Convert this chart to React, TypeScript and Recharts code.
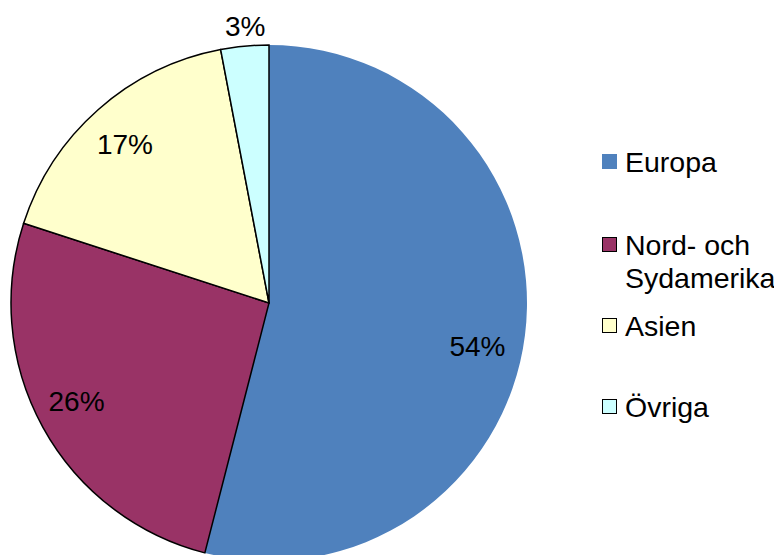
import React from "react";
import { PieChart, Pie, Cell, Legend } from "recharts";

const categories = ["Europa", "Nord- och Sydamerika", "Asien", "Övriga"];
const legendLines = [["Europa"], ["Nord- och", "Sydamerika"], ["Asien"], ["Övriga"]];
const values = [54, 26, 17, 3];

const colors = ["#4F81BD", "#993366", "#FFFFCC", "#CCFFFF"];
const strokes = ["none", "#000000", "#000000", "#000000"];
const labelAngleShift = [-4.6, -1.8, 0.9, -0.5];
const labelRadius = [213, 216, 214, 278];
const legendTops = [146, 229, 310, 391];

const data = categories.map((name, i) => ({ name, value: values[i] }));

const FONT = "'Liberation Sans', Arial, sans-serif";
const RAD = Math.PI / 180;

const renderLabel = (props: any) => {
  const { cx, cy, midAngle, index, value } = props;
  const a = (midAngle + labelAngleShift[index]) * RAD;
  const r = labelRadius[index];
  const x = cx + r * Math.cos(a);
  const y = cy - r * Math.sin(a);
  return (
    <text
      x={x}
      y={y}
      textAnchor="middle"
      dominantBaseline="central"
      fill="#000"
      fontFamily={FONT}
      fontSize={28}
    >
      {`${value}%`}
    </text>
  );
};

const renderLegend = () => (
  <div style={{ position: "relative", width: 180, height: 300 }}>
    {legendLines.map((lines, i) => (
      <div
        key={i}
        style={{
          position: "absolute",
          left: 0,
          top: legendTops[i] - 146,
          display: "flex",
          alignItems: "flex-start",
        }}
      >
        <div
          style={{
            width: i === 0 ? 15 : 13,
            height: i === 0 ? 15 : 13,
            marginTop: 8,
            background: colors[i],
            border: i === 0 ? "none" : "1.5px solid #000",
            marginRight: 8,
          }}
        />
        <div style={{ fontFamily: FONT, fontSize: 28.5, lineHeight: "33px", color: "#000" }}>
          {lines.map((l, j) => (
            <div key={j} style={{ whiteSpace: "nowrap" }}>{l}</div>
          ))}
        </div>
      </div>
    ))}
  </div>
);

export default function App() {
  return (
    <PieChart
      width={774}
      height={547}
      margin={{ top: 0, right: 0, bottom: 0, left: 0 }}
      style={{ overflow: "hidden" }}
    >
      <Pie
        data={data}
        dataKey="value"
        nameKey="name"
        cx={261}
        cy={295}
        outerRadius={258}
        startAngle={90}
        endAngle={-270}
        isAnimationActive={false}
        label={renderLabel}
        labelLine={false}
      >
        {data.map((d, i) => (
          <Cell key={d.name} fill={colors[i]} stroke={strokes[i]} strokeWidth={1.5} />
        ))}
      </Pie>
      <Legend
        content={renderLegend}
        layout="vertical"
        wrapperStyle={{ position: "absolute", left: 594, top: 138, width: 180 }}
      />
    </PieChart>
  );
}
